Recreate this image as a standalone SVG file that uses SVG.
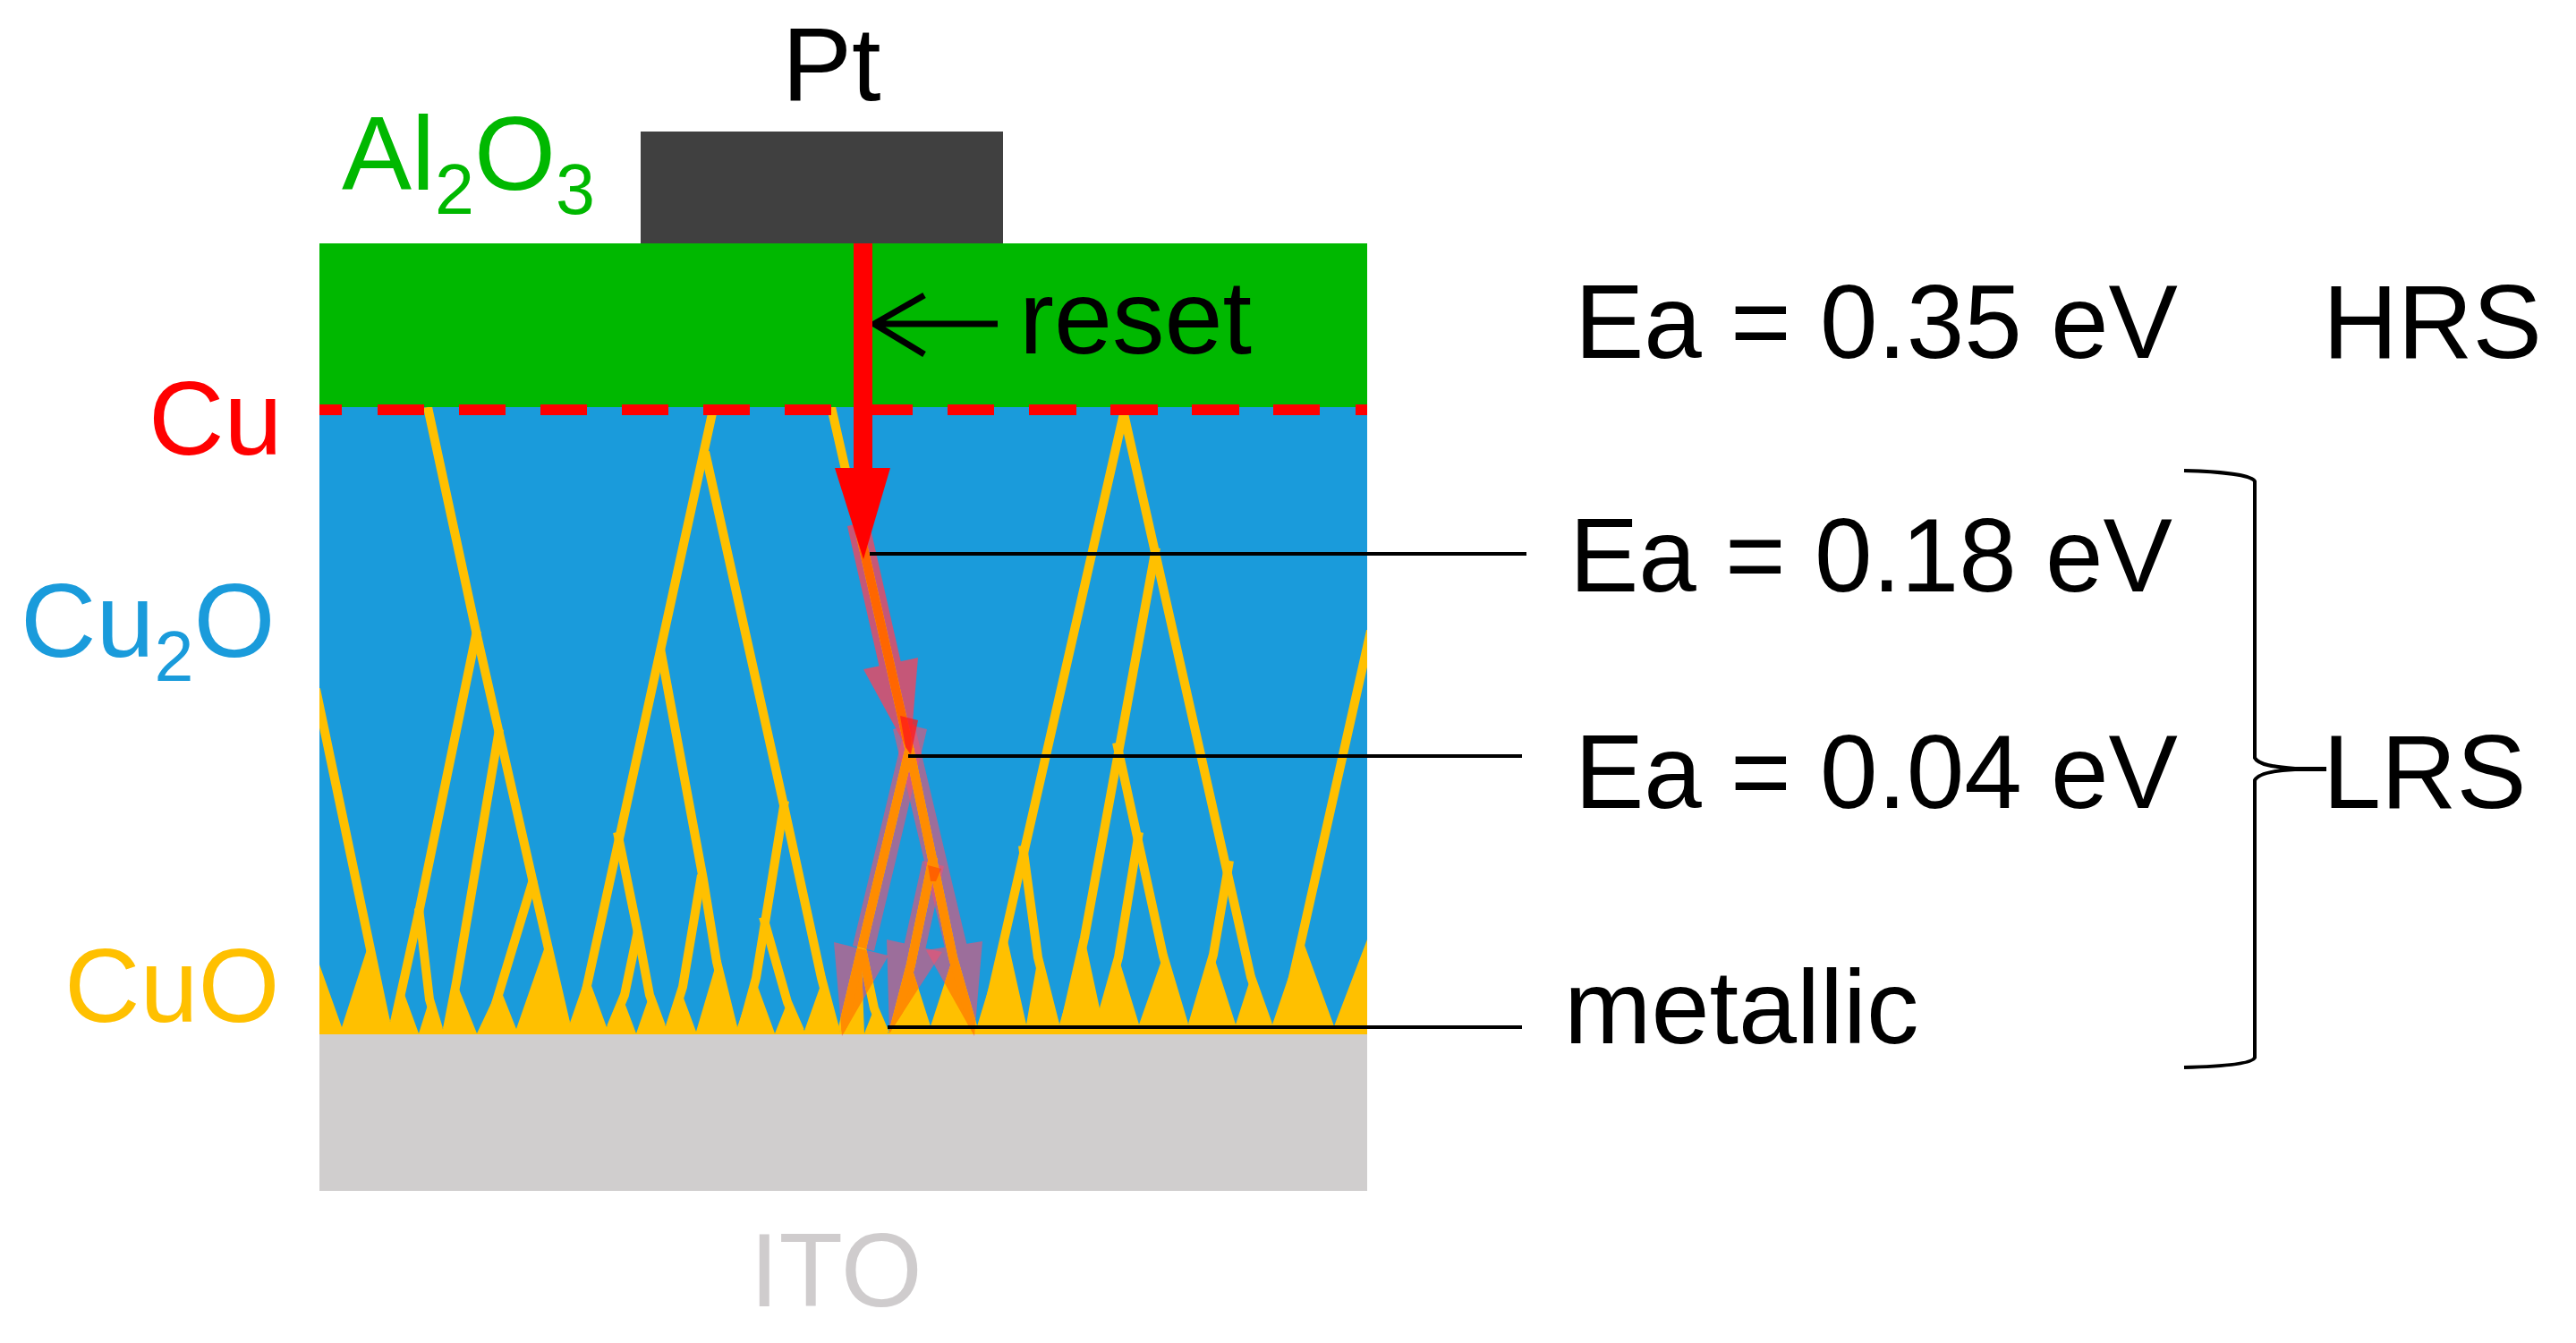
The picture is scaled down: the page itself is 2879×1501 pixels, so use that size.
<svg xmlns="http://www.w3.org/2000/svg" xmlns:xlink="http://www.w3.org/1999/xlink" width="2879" height="1501" viewBox="0 0 2879 1501">
<style>
text{font-family:"Liberation Sans",Arial,sans-serif;font-size:117px}
.ea{font-size:116px}
.fil{fill:none;stroke:currentColor;stroke-width:10;stroke-linejoin:round}
.teeth{fill:currentColor}
.low{fill:rgba(243,80,112,.6)}
.lead{fill:none;stroke:#000;stroke-width:4}
.sub{font-size:79px}
</style>
<defs>
<clipPath id="blueClip"><rect x="357" y="455" width="1171" height="701"/></clipPath>
<g id="cuo" clip-path="url(#blueClip)">
<polygon class="teeth" points="357,1078 382,1148 411,1058 436,1142 449,1103 468,1155 480,1117 495,1150 510,1098 533,1155 558,1102 577,1150 610,1055 637,1143 656,1088 678,1148 694,1110 711,1155 726,1112 744,1147 759,1102 778,1153 801,1075 824,1148 843,1092 866,1155 880,1120 899,1152 920,1093 939,1153 963,1077 966,1155 977,1127 993,1155 1018,1078 1040,1147 1065,1070 1092,1147 1124,1042 1147,1145 1160,1070 1184,1145 1212,1048 1229,1127 1250,1070 1273,1145 1300,1068 1328,1145 1356,1067 1381,1145 1398,1092 1422,1145 1455,1048 1491,1147 1528,1050 1528,1156 357,1156"/>
<g class="fil">
<path d="M353,770L431,1142"/>
<path d="M478,455L533,710L558,820L596,987L632,1143"/>
<path d="M533,705L468,1020L441,1142"/>
<path d="M468,1015L480,1117L490,1150"/>
<path d="M558,815L510,1098L500,1150"/>
<path d="M596,983L560,1102L544,1155"/>
<path d="M796,462L659,1088L647,1143"/>
<path d="M788,505L876,900L918,1093L934,1153"/>
<path d="M738,725L786,983L801,1075L819,1148"/>
<path d="M690,930L713,1043L726,1112L739,1147"/>
<path d="M713,1040L698,1112L683,1148"/>
<path d="M784,978L763,1103L749,1147"/>
<path d="M877,895L845,1093L830,1148"/>
<path d="M853,1025L880,1120L894,1152"/>
<path d="M929,455L1017,840L1065,1070L1087,1147"/>
<path d="M1017,835L963,1060L941,1153"/>
<path d="M963,1060L977,1127L989,1155"/>
<path d="M1043,958L1018,1078L998,1155"/>
<path d="M1256,462L1124,1042L1100,1147"/>
<path d="M1256,462L1398,1092L1417,1145"/>
<path d="M1292,612L1212,1048L1190,1145"/>
<path d="M1248,830L1300,1068L1323,1145"/>
<path d="M1273,930L1250,1070L1234,1127"/>
<path d="M1143,945L1160,1070L1179,1145"/>
<path d="M1374,962L1356,1067L1333,1145"/>
<path d="M1532,705L1455,1048L1433,1145"/>
</g>
</g>
<clipPath id="lowerClip">
<path d="M1012,809L1036,815L977,1063L953,1057ZM932,1053L993,1068L941,1158ZM998,815L1022,809L1082,1062L1058,1068ZM1035,1062L1098,1052L1089,1158ZM1031,962L1055,968L1030,1080L1006,1076ZM991,1050L1053,1064L994,1155Z"/>
</clipPath>
<clipPath id="upperClip">
<path d="M947,588L971,582L1013,767L989,773ZM965,748L1026,735L1017,843Z"/>
</clipPath>
</defs>

<g id="layers">
<rect x="357" y="272" width="1171" height="184" fill="#00B800"/>
<rect x="357" y="455" width="1171" height="701" fill="#1A9BDB"/>
<rect x="357" y="1156" width="1171" height="175" fill="#D0CECE"/>
<rect x="716" y="147" width="405" height="125" fill="#404040"/>
</g>

<g id="arrows-translucent">
<path class="low" d="M1012,809L1036,815L977,1063L953,1057ZM932,1053L993,1068L941,1158Z"/>
<path class="low" d="M998,815L1022,809L1082,1062L1058,1068ZM1035,1062L1098,1052L1089,1158Z"/>
<path class="low" d="M1031,962L1055,968L1030,1080L1006,1076ZM991,1050L1053,1064L994,1155Z"/>
<path fill="rgba(240,70,95,.8)" d="M947,588L971,582L1013,767L989,773ZM965,748L1026,735L1017,843Z"/>
</g>

<g id="filaments">
<use href="#cuo" xlink:href="#cuo" color="#FFC000"/>
<use href="#cuo" xlink:href="#cuo" color="#FF8C00" clip-path="url(#lowerClip)"/>
<use href="#cuo" xlink:href="#cuo" color="#FF6600" clip-path="url(#upperClip)"/>
<polygon points="1006,800 1026,805 1018,843 1012,835" fill="#FF1A1A" opacity=".75"/>
<polygon points="1037,967 1052,971 1046,985 1040,985" fill="#FF4500" opacity=".6"/>
</g>

<g id="cu-layer">
<path d="M357,458H382M422,458H474M513,458H565M604,458H656M695,458H747M786,458H838M877,458H929M968,458H1020M1059,458H1111M1150,458H1203M1241,458H1294M1332,458H1385M1423,458H1475M1515,458H1528" stroke="#FF0000" stroke-width="12" fill="none"/>
</g>

<g id="connectors">
<path class="lead" d="M972,619H1706"/>
<path class="lead" d="M1015,845H1701"/>
<path class="lead" d="M992,1148H1701"/>
<path d="M1115,362H977M1033,330L977,362L1033,396" fill="none" stroke="#000" stroke-width="7"/>
<path d="M2441,526C2482,527 2517,531 2520,538V847C2524,855 2542,857 2565,859H2598V860H2565C2542,861 2524,864 2520,872V1182C2517,1189 2482,1192 2441,1193" fill="none" stroke="#000" stroke-width="4"/>
</g>

<g id="reset-arrow">
<rect x="954" y="272" width="21" height="252" fill="#FF0000"/>
<polygon points="933,523 995,523 965,625" fill="#FF0000"/>
</g>

<g id="labels">
<text x="874" y="112">Pt</text>
<text x="382" y="212" fill="#00B800">Al<tspan class="sub" dy="27">2</tspan><tspan dy="-27">O</tspan><tspan class="sub" dy="27">3</tspan></text>
<text x="1139" y="395">reset</text>
<text x="166" y="508" fill="#FF0000">Cu</text>
<text x="23" y="734" fill="#1A9BDB">Cu<tspan class="sub" dy="27">2</tspan><tspan dy="-27">O</tspan></text>
<text x="72" y="1142" fill="#FFC000">CuO</text>
<text x="838" y="1460" fill="#CFCCCD">ITO</text>
<text class="ea" x="1760" y="400">Ea = 0.35 eV</text>
<text class="ea" x="2596" y="400">HRS</text>
<text class="ea" x="1754" y="661">Ea = 0.18 eV</text>
<text class="ea" x="1760" y="903">Ea = 0.04 eV</text>
<text x="1748" y="1166">metallic</text>
<text x="2596" y="903">LRS</text>
</g>
</svg>
